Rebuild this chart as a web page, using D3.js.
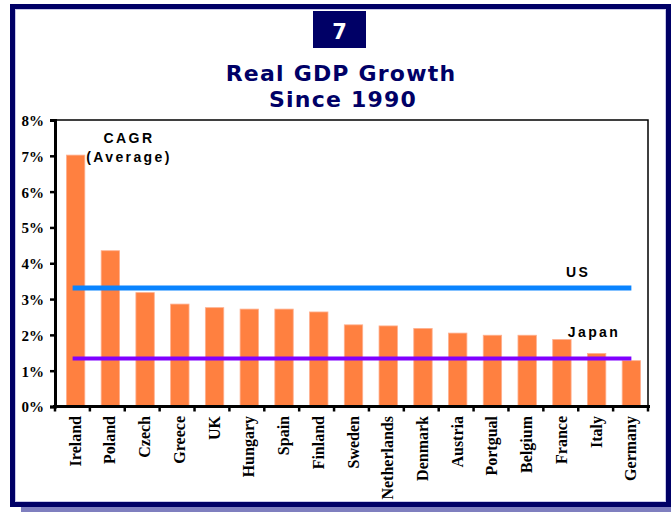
<!DOCTYPE html>
<html>
<head>
<meta charset="utf-8">
<script src="https://cdn.jsdelivr.net/npm/d3@7"></script>
<style>
  body { margin: 0; background: #fff; }
  svg { display: block; }
</style>
</head>
<body>
<div id="chart"></div>
<script>
// Data
var countries = ["Ireland", "Poland", "Czech", "Greece", "UK", "Hungary", "Spain", "Finland",
  "Sweden", "Netherlands", "Denmark", "Austria", "Portgual", "Belgium", "France", "Italy", "Germany"];
var cagr = [7.02, 4.35, 3.18, 2.86, 2.76, 2.72, 2.72, 2.64, 2.28, 2.25, 2.18, 2.05, 1.99, 1.99, 1.87, 1.48, 1.28];
var usAvg = 3.31;
var japanAvg = 1.34;
var yTicks = [0, 1, 2, 3, 4, 5, 6, 7, 8];

var width = 671,
    height = 512;

var navy = "#000066";

var svg = d3.select("#chart")
  .append("svg")
  .attr("width", width)
  .attr("height", height);

// frame + shadow
svg.append("rect")
  .attr("x", 21).attr("y", 507)
  .attr("width", 650).attr("height", 5)
  .style("fill", "#7f7fbf");

svg.append("rect")
  .attr("x", 12.5).attr("y", 6.5)
  .attr("width", 656).attr("height", 498)
  .style("fill", "#fff")
  .style("stroke", navy)
  .style("stroke-width", 5);

svg.append("rect")
  .attr("x", 15.5).attr("y", 9.5)
  .attr("width", 650).attr("height", 492)
  .style("fill", "none")
  .style("stroke", "#c8c8e8")
  .style("stroke-width", 1);

// number badge
svg.append("rect")
  .attr("x", 313).attr("y", 11)
  .attr("width", 53).attr("height", 37)
  .style("fill", navy);

svg.append("text")
  .attr("x", 339.5).attr("y", 39)
  .attr("text-anchor", "middle")
  .style("font-family", "'DejaVu Sans', sans-serif")
  .style("font-weight", "bold")
  .style("font-size", "21px")
  .style("fill", "#fff")
  .text("7");

// title
var title = svg.append("text")
  .attr("text-anchor", "middle")
  .style("font-family", "'DejaVu Sans', sans-serif")
  .style("font-weight", "bold")
  .style("font-size", "22px")
  .style("letter-spacing", "1.2px")
  .style("fill", navy);

title.append("tspan").attr("x", 341).attr("y", 81).text("Real GDP Growth");
title.append("tspan").attr("x", 343).attr("y", 107).text("Since 1990");

// scales
var x = d3.scaleBand()
  .domain(countries)
  .range([56, 651])
  .paddingInner(0.47)
  .paddingOuter(0.3);

var y = d3.scaleLinear()
  .domain([0, 8])
  .range([406.5, 120]);

var g = svg.append("g");

// bars
g.selectAll("rect.bar")
  .data(countries)
  .enter()
  .append("rect")
  .attr("class", "bar")
  .attr("x", function(d) { return x(d); })
  .attr("width", x.bandwidth())
  .attr("y", function(d, i) { return y(cagr[i]); })
  .attr("height", function(d, i) { return y(0) - y(cagr[i]); })
  .style("fill", "#ff8040")
  .style("stroke", "#ffb090")
  .style("stroke-width", 0.8);

// reference lines
var xFirst = x(countries[0]) + x.bandwidth() / 2 - 3;
var xLast = x(countries[countries.length - 1]) + x.bandwidth() / 2;

g.append("line")
  .attr("x1", xFirst).attr("x2", xLast)
  .attr("y1", y(usAvg)).attr("y2", y(usAvg))
  .style("stroke", "#0a84ff")
  .style("stroke-width", 5);

g.append("line")
  .attr("x1", xFirst).attr("x2", xLast)
  .attr("y1", y(japanAvg)).attr("y2", y(japanAvg))
  .style("stroke", "#8000ff")
  .style("stroke-width", 4);

// plot frame (top + right)
g.append("path")
  .attr("d", "M55," + y(8) + "H648V" + y(0))
  .style("fill", "none")
  .style("stroke", "#000")
  .style("stroke-width", 1.5);

// y axis
var yAxis = d3.axisLeft(y)
  .tickValues(yTicks)
  .tickSize(5)
  .tickFormat(function(d) { return d + "%"; });

var yg = svg.append("g")
  .attr("transform", "translate(55,0)")
  .call(yAxis);

yg.select(".domain").style("stroke-width", 3);
yg.selectAll(".tick line").style("stroke-width", 2.5);
yg.selectAll("text")
  .attr("x", -11)
  .attr("dy", "0.36em")
  .style("font-family", "'Liberation Serif', serif")
  .style("font-weight", "bold")
  .style("font-size", "15px")
  .style("fill", "#000");

// x axis
var step = 593 / countries.length;
var boundaries = d3.range(countries.length + 1).map(function(i) { return 55 + i * step; });

svg.append("line")
  .attr("x1", 53).attr("x2", 650)
  .attr("y1", y(0)).attr("y2", y(0))
  .style("stroke", "#000")
  .style("stroke-width", 3);

svg.selectAll("line.xtick")
  .data(boundaries)
  .enter()
  .append("line")
  .attr("class", "xtick")
  .attr("x1", function(d) { return d; })
  .attr("x2", function(d) { return d; })
  .attr("y1", y(0))
  .attr("y2", y(0) + 5)
  .style("stroke", "#000")
  .style("stroke-width", 2.5);

svg.selectAll("text.xlabel")
  .data(countries)
  .enter()
  .append("text")
  .attr("class", "xlabel")
  .attr("transform", function(d) {
    var cx = x(d) + x.bandwidth() / 2;
    return "translate(" + (cx + 5) + ",416)rotate(-90)";
  })
  .attr("text-anchor", "end")
  .style("font-family", "'Liberation Serif', serif")
  .style("font-weight", "bold")
  .style("font-size", "16px")
  .style("fill", "#000")
  .text(function(d) { return d; });

// annotations
function note(txt, cx, cy) {
  svg.append("text")
    .attr("x", cx).attr("y", cy)
    .attr("text-anchor", "middle")
    .style("font-family", "'Liberation Sans', Arial, sans-serif")
    .style("font-weight", "bold")
    .style("font-size", "14px")
    .style("letter-spacing", "2.4px")
    .style("fill", "#000")
    .text(txt);
}

note("CAGR", 129, 143);
note("(Average)", 129, 162);
note("US", 578, y(usAvg) - 11);
note("Japan", 594, y(japanAvg) - 22);
</script>
</body>
</html>
